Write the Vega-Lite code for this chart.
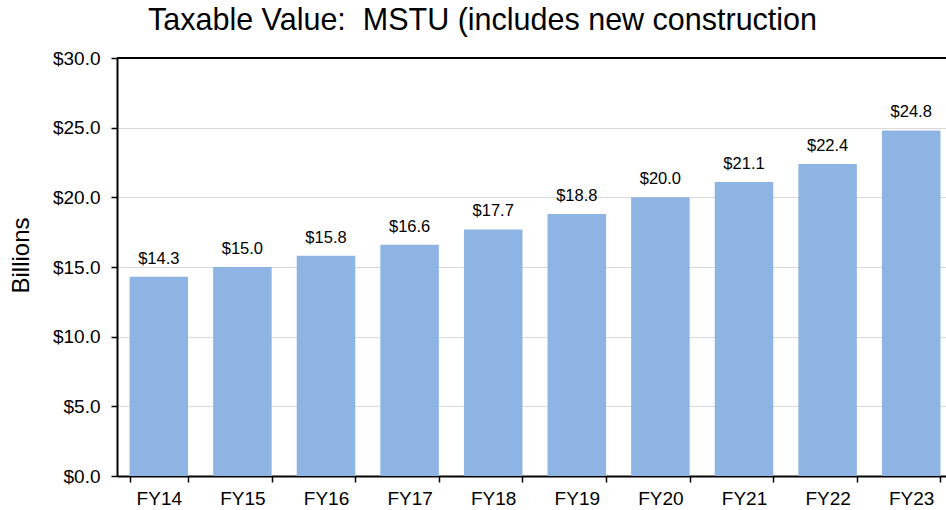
{
  "$schema": "https://vega.github.io/schema/vega-lite/v6.json",
  "width": 836,
  "height": 418,
  "autosize": {"type": "none"},
  "padding": {"left": 117, "top": 58, "right": 0, "bottom": 34},
  "background": "white",
  "config": {"font": "Liberation Sans", "view": {"stroke": null}},
  "title": {
    "text": "Taxable Value:\u00a0 MSTU (includes new construction",
    "anchor": "start",
    "frame": "group",
    "dx": 31,
    "offset": 13,
    "fontSize": 30.5,
    "fontWeight": "normal",
    "color": "black",
    "font": "Liberation Sans"
  },
  "data": {
    "values": [
      {"fy": "FY14", "v": 14.3},
      {"fy": "FY15", "v": 15.0},
      {"fy": "FY16", "v": 15.8},
      {"fy": "FY17", "v": 16.6},
      {"fy": "FY18", "v": 17.7},
      {"fy": "FY19", "v": 18.8},
      {"fy": "FY20", "v": 20.0},
      {"fy": "FY21", "v": 21.1},
      {"fy": "FY22", "v": 22.4},
      {"fy": "FY23", "v": 24.8}
    ]
  },
  "encoding": {
    "x": {
      "field": "fy",
      "type": "nominal",
      "sort": null,
      "scale": {"paddingInner": 0.3, "paddingOuter": 0.15},
      "axis": {
        "title": null,
        "labelAngle": 0,
        "labelFontSize": 19,
        "labelColor": "black",
        "labelPadding": 7,
        "domainColor": "black",
        "domainWidth": 2,
        "tickColor": "black",
        "tickWidth": 1.5,
        "tickSize": 6,
        "tickBand": "extent",
        "grid": false
      }
    },
    "y": {
      "field": "v",
      "type": "quantitative",
      "scale": {"domain": [0, 30], "nice": false},
      "axis": {
        "title": "Billions",
        "titleFontSize": 24,
        "titleFontWeight": "normal",
        "titleColor": "black",
        "titlePadding": 19,
        "titleY": 197,
        "values": [0, 5, 10, 15, 20, 25, 30],
        "format": "$.1f",
        "labelFontSize": 19,
        "labelColor": "black",
        "labelPadding": 11,
        "domainColor": "black",
        "domainWidth": 2,
        "tickColor": "black",
        "tickWidth": 1.5,
        "tickSize": 6,
        "gridColor": "#d9d9d9",
        "gridWidth": 1.2
      }
    }
  },
  "layer": [
    {
      "mark": {"type": "rule", "color": "black", "strokeWidth": 2},
      "data": {"values": [{"t": 30}]},
      "encoding": {"y": {"field": "t", "type": "quantitative"}, "x": {"value": 0}, "x2": {"value": 836}}
    },
    {
      "mark": {"type": "bar", "color": "#8eb4e3"}
    },
    {
      "mark": {"type": "text", "dy": -18, "fontSize": 16.5, "color": "black"},
      "encoding": {"text": {"field": "v", "type": "quantitative", "format": "$.1f"}}
    }
  ]
}
